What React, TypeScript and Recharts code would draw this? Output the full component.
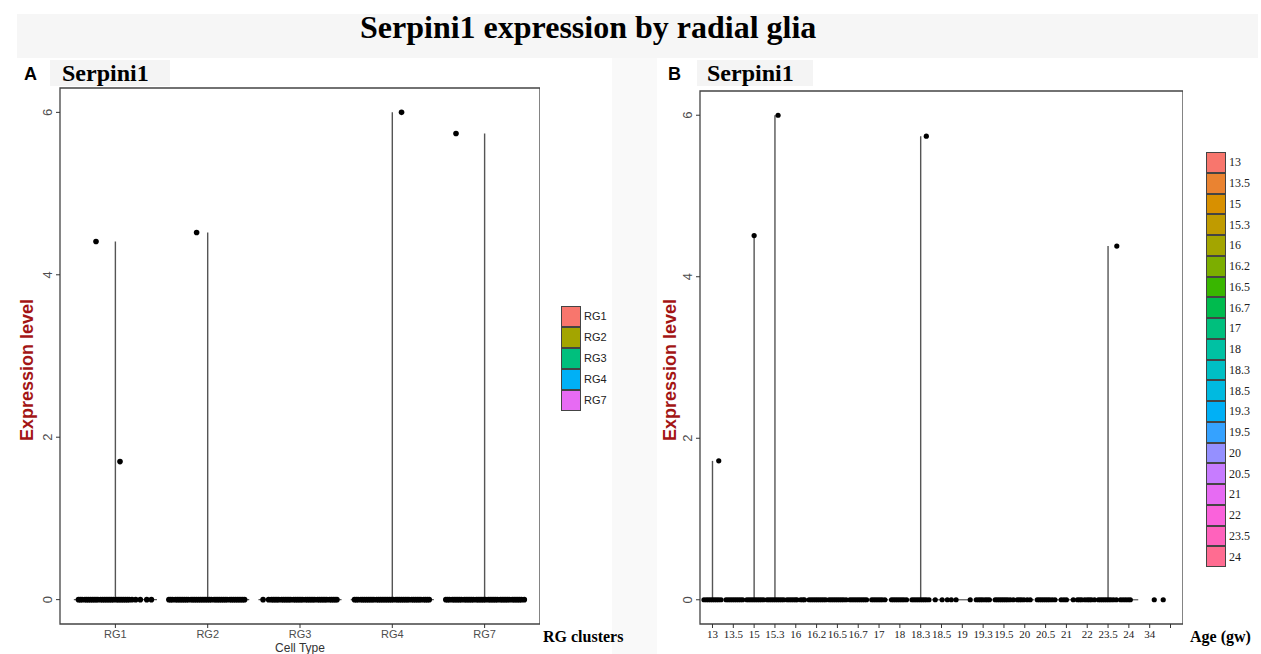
import React from 'react'
import { ScatterChart, Scatter, XAxis, YAxis, ReferenceArea } from 'recharts'

// panel A: RG clusters
const cellTypes = ['RG1', 'RG2', 'RG3', 'RG4', 'RG7']
const cellTypeColors = ['#F8766D', '#A3A500', '#00BF7D', '#00B0F6', '#E76BF3']
const cellTypeMax = [4.41, 4.52, 0, 6.0, 5.74]
// horizontal jitter of the cells sitting at 0, per cluster
const cellTypeZeroJitter = [
  [-0.4, -0.38, -0.36, -0.33, -0.31, -0.29, -0.27, -0.25, -0.23, -0.21, -0.19, -0.16, -0.14, -0.12, -0.1, -0.08, -0.06, -0.04, -0.02, 0.01, 0.03, 0.05, 0.07, 0.09, 0.11, 0.13, 0.15, 0.18, 0.22, 0.27, 0.34, 0.39],
  [-0.42, -0.4, -0.38, -0.35, -0.33, -0.31, -0.29, -0.27, -0.25, -0.23, -0.21, -0.18, -0.16, -0.14, -0.12, -0.1, -0.08, -0.06, -0.04, -0.02, 0.0, 0.02, 0.04, 0.07, 0.09, 0.11, 0.13, 0.15, 0.17, 0.19, 0.21, 0.24, 0.26, 0.28, 0.3, 0.32, 0.34, 0.36, 0.38, 0.4],
  [-0.4, -0.34, -0.31, -0.29, -0.27, -0.25, -0.23, -0.2, -0.18, -0.16, -0.14, -0.12, -0.1, -0.07, -0.05, -0.03, -0.01, 0.01, 0.03, 0.06, 0.08, 0.1, 0.12, 0.14, 0.16, 0.19, 0.21, 0.23, 0.25, 0.27, 0.29, 0.32, 0.34, 0.36, 0.38, 0.4],
  [-0.41, -0.39, -0.37, -0.34, -0.32, -0.3, -0.28, -0.26, -0.24, -0.22, -0.2, -0.17, -0.15, -0.13, -0.11, -0.09, -0.07, -0.05, -0.03, -0.01, 0.01, 0.04, 0.06, 0.08, 0.1, 0.12, 0.14, 0.16, 0.18, 0.21, 0.23, 0.25, 0.27, 0.29, 0.31, 0.34, 0.36, 0.38, 0.4],
  [-0.42, -0.4, -0.38, -0.35, -0.33, -0.31, -0.29, -0.27, -0.25, -0.22, -0.2, -0.18, -0.16, -0.14, -0.12, -0.09, -0.07, -0.05, -0.03, -0.01, 0.01, 0.04, 0.06, 0.08, 0.1, 0.12, 0.14, 0.17, 0.19, 0.21, 0.23, 0.25, 0.27, 0.3, 0.32, 0.34, 0.36, 0.38, 0.4, 0.43],
]
// [cluster, jitter, expression]
const cellTypeHigh = [
  [0, -0.21, 4.41],
  [0, 0.05, 1.7],
  [1, -0.12, 4.52],
  [3, 0.1, 6.0],
  [4, -0.31, 5.74],
]

// panel B: age in gestational weeks
const ageTicks = ['13', '13.5', '15', '15.3', '16', '16.2', '16.5', '16.7', '17', '18', '18.3', '18.5', '19', '19.3', '19.5', '20', '20.5', '21', '22', '23.5', '24', '34', '']
const ageLegend = ['13', '13.5', '15', '15.3', '16', '16.2', '16.5', '16.7', '17', '18', '18.3', '18.5', '19.3', '19.5', '20', '20.5', '21', '22', '23.5', '24']
const ageColors = ['#F8766D', '#EA8331', '#D89000', '#C09B00', '#A3A500', '#7CAE00', '#39B600', '#00BB4E', '#00BF7D', '#00C1A3', '#00BFC4', '#00BAE0', '#00B0F6', '#35A2FF', '#9590FF', '#C77CFF', '#E76BF3', '#FA62DB', '#FF62BC', '#FF6C91']
const ageMax = [1.72, 0, 4.51, 6.0, 0, 0, 0, 0, 0, 0, 5.74, 0, 0, 0, 0, 0, 0, 0, 0, 4.38, 0, 0, 0]
const ageZeroJitter = [
  [-0.41, -0.3, -0.2, -0.1, 0, 0.1, 0.2, 0.3, 0.41],
  [-0.35, -0.25, -0.15, -0.05, 0.05, 0.15, 0.25, 0.35, 0.45],
  [-0.35, -0.25, -0.15, -0.05, 0.05, 0.15, 0.25, 0.35, 0.45],
  [-0.38, -0.28, -0.18, -0.08, 0.02, 0.12, 0.22, 0.32, 0.42],
  [-0.42, -0.32, -0.22, -0.12, -0.02, 0.06, 0.24, 0.34, 0.42],
  [-0.36, -0.26, -0.16, -0.06, 0.04, 0.14, 0.24, 0.34, 0.44],
  [-0.4, -0.3, -0.2, -0.1, 0, 0.1, 0.2, 0.3, 0.42],
  [-0.4, -0.3, -0.2, -0.1, 0, 0.1, 0.2, 0.3, 0.4],
  [-0.35, -0.25, -0.15, -0.05, 0.05, 0.15, 0.28],
  [-0.4, -0.3, -0.2, -0.1, 0.0, 0.1, 0.2, 0.32],
  [-0.42, -0.32, -0.22, -0.12, -0.02, 0.08, 0.18, 0.28, 0.4],
  [-0.3, 0.03, 0.28, 0.47],
  [-0.3, 0.38],
  [-0.33, -0.22, -0.12, -0.02, 0.1, 0.2, 0.3],
  [-0.42, -0.32, -0.22, -0.12, -0.02, 0.08, 0.18, 0.3, 0.45],
  [-0.36, -0.26, -0.16, -0.04, 0.12, 0.26],
  [-0.4, -0.3, -0.2, -0.1, 0, 0.1, 0.2, 0.32, 0.45],
  [-0.25, -0.12, 0.0, 0.33],
  [-0.47, -0.37, -0.27, -0.12, 0.0, 0.1, 0.2, 0.35],
  [-0.46, -0.36, -0.26, -0.16, -0.06, 0.04, 0.14, 0.26, 0.4],
  [-0.4, -0.28, -0.16, -0.04, 0.07],
  [0.22],
  [-0.35],
]
const ageHigh = [
  [0, 0.3, 1.72],
  [2, 0, 4.51],
  [3, 0.15, 6.0],
  [10, 0.27, 5.74],
  [19, 0.42, 4.38],
]

const yTicks = [0, 2, 4, 6]
const yDomain = [-0.3, 6.3]
const violinHalfWidth = 0.45

const SANS = '"Liberation Sans", Arial, sans-serif'
const SERIF = '"Liberation Serif", "Times New Roman", serif'
const RED = '#a31515'

const noShape = () => <g />

const YTick = (props: any) => {
  const { x, y, payload } = props
  return (
    <text
      transform={`translate(${x - 2},${y}) rotate(-90)`}
      textAnchor="middle"
      fontSize={13}
      fontFamily={SANS}
      fill="#4d4d4d"
    >
      {payload.value}
    </text>
  )
}

type PanelProps = {
  ticks: string[]
  maxes: number[]
  jitter: number[][]
  high: number[][]
  width: number
  height: number
  margin: { top: number; right: number; bottom: number; left: number }
  dotR: number
  tickFont: { fontSize: number; fontFamily: string; fill: string }
  xLabel?: string
  zeroLineCount: number
}

function ViolinPanel(p: PanelProps) {
  const n = p.ticks.length
  const xDomain = [-0.6, n - 1 + 0.6]
  const zeroDots = p.jitter.flatMap((offs, i) => offs.map(o => ({ x: i + o, y: 0 })))
  const highDots = p.high.map(([i, o, v]) => ({ x: i + o, y: v }))
  const dot = (props: any) => <circle cx={props.cx} cy={props.cy} r={p.dotR} fill="#000" />

  return (
    <ScatterChart width={p.width} height={p.height} margin={p.margin}>
      <XAxis
        type="number"
        dataKey="x"
        domain={xDomain}
        allowDataOverflow
        ticks={p.ticks.map((_, i) => i)}
        interval={0}
        tickFormatter={(v: number) => p.ticks[v] ?? ''}
        axisLine={false}
        tickLine={{ stroke: '#333' }}
        tickSize={4}
        tickMargin={2}
        tick={p.tickFont}
        height={30}
        label={p.xLabel ? { value: p.xLabel, position: 'insideBottom', offset: 2, fontSize: 12, fontFamily: SANS, fill: '#333' } : undefined}
      />
      <YAxis
        type="number"
        dataKey="y"
        domain={yDomain}
        allowDataOverflow
        ticks={yTicks}
        axisLine={false}
        tickLine={{ stroke: '#333' }}
        tickSize={4}
        tickMargin={2}
        tick={<YTick />}
        width={40}
      />
      {p.ticks.slice(0, p.zeroLineCount).map((_, i) => (
        <Scatter
          key={`h${i}`}
          data={[{ x: i - violinHalfWidth, y: 0 }, { x: i + violinHalfWidth, y: 0 }]}
          line={{ stroke: '#555', strokeWidth: 1.2 }}
          shape={noShape}
          isAnimationActive={false}
        />
      ))}
      {p.maxes.map((m, i) =>
        m > 0 ? (
          <Scatter
            key={`v${i}`}
            data={[{ x: i, y: 0 }, { x: i, y: m }]}
            line={{ stroke: '#555', strokeWidth: 1.4 }}
            shape={noShape}
            isAnimationActive={false}
          />
        ) : null
      )}
      <Scatter data={zeroDots} shape={dot} isAnimationActive={false} />
      <Scatter data={highDots} shape={dot} isAnimationActive={false} />
      <ReferenceArea
        x1={xDomain[0]}
        x2={xDomain[1]}
        y1={yDomain[0]}
        y2={yDomain[1]}
        fill="none"
        stroke="#444"
        strokeWidth={1.3}
        ifOverflow="visible"
      />
    </ScatterChart>
  )
}

function Swatches({ labels, colors, rowH, font }: { labels: string[]; colors: string[]; rowH: number; font: { fontSize: number; fontFamily: string } }) {
  return (
    <div>
      {labels.map((l, i) => (
        <div key={l} style={{ display: 'flex', alignItems: 'center', height: rowH }}>
          <div
            style={{
              width: 18,
              height: rowH - 2,
              background: colors[i],
              border: '1px solid #444',
              boxSizing: 'content-box',
            }}
          />
          <span style={{ marginLeft: 3, fontSize: font.fontSize, fontFamily: font.fontFamily, color: '#222' }}>{l}</span>
        </div>
      ))}
    </div>
  )
}

const abs = (left: number, top: number, extra: React.CSSProperties = {}): React.CSSProperties => ({
  position: 'absolute',
  left,
  top,
  whiteSpace: 'nowrap',
  lineHeight: 1,
  ...extra,
})

export default function App() {
  return (
    <div style={{ position: 'absolute', left: 0, top: 0, width: 1261, height: 654, background: '#fff', overflow: 'hidden' }}>
      <div style={abs(17, 14, { width: 1241, height: 44, background: '#f6f6f6' })} />
      <div style={abs(612, 58, { width: 45, height: 596, background: '#f9f9f9' })} />
      <div style={abs(360, 11, { fontFamily: SERIF, fontWeight: 'bold', fontSize: 32, color: '#000' })}>
        Serpini1 expression by radial glia
      </div>

      {/* panel A */}
      <div style={abs(50, 60, { width: 120, height: 26, background: '#f4f4f4' })} />
      <div style={abs(24, 65, { fontFamily: SANS, fontWeight: 'bold', fontSize: 18 })}>A</div>
      <div style={abs(62, 61, { fontFamily: SERIF, fontWeight: 'bold', fontSize: 24 })}>Serpini1</div>
      <div style={abs(20, 60)}>
        <ViolinPanel
          ticks={cellTypes}
          maxes={cellTypeMax}
          jitter={cellTypeZeroJitter}
          high={cellTypeHigh}
          width={520}
          height={594}
          margin={{ top: 28, right: 0, bottom: 0, left: 0 }}
          dotR={2.8}
          tickFont={{ fontSize: 11, fontFamily: SANS, fill: '#4d4d4d' }}
          xLabel="Cell Type"
          zeroLineCount={cellTypes.length}
        />
      </div>
      <div style={abs(27, 370, { transform: 'translate(-50%,-50%) rotate(-90deg)', fontFamily: SANS, fontWeight: 'bold', fontSize: 18, color: RED })}>
        Expression level
      </div>
      <div style={abs(543, 629, { fontFamily: SERIF, fontWeight: 'bold', fontSize: 16 })}>RG clusters</div>
      <div style={abs(561, 306)}>
        <Swatches labels={cellTypes} colors={cellTypeColors} rowH={21} font={{ fontSize: 11, fontFamily: SANS }} />
      </div>

      {/* panel B */}
      <div style={abs(697, 60, { width: 116, height: 26, background: '#f4f4f4' })} />
      <div style={abs(668, 65, { fontFamily: SANS, fontWeight: 'bold', fontSize: 18 })}>B</div>
      <div style={abs(707, 61, { fontFamily: SERIF, fontWeight: 'bold', fontSize: 24 })}>Serpini1</div>
      <div style={abs(660, 60)}>
        <ViolinPanel
          ticks={ageTicks}
          maxes={ageMax}
          jitter={ageZeroJitter}
          high={ageHigh}
          width={523}
          height={594}
          margin={{ top: 31, right: 0, bottom: 0, left: 0 }}
          dotR={2.6}
          tickFont={{ fontSize: 11, fontFamily: SERIF, fill: '#222' }}
          zeroLineCount={21}
        />
      </div>
      <div style={abs(670, 370, { transform: 'translate(-50%,-50%) rotate(-90deg)', fontFamily: SANS, fontWeight: 'bold', fontSize: 18, color: RED })}>
        Expression level
      </div>
      <div style={abs(1190, 629, { fontFamily: SERIF, fontWeight: 'bold', fontSize: 16 })}>Age (gw)</div>
      <div style={abs(1206, 152)}>
        <Swatches labels={ageLegend} colors={ageColors} rowH={20.75} font={{ fontSize: 12, fontFamily: SERIF }} />
      </div>
    </div>
  )
}
